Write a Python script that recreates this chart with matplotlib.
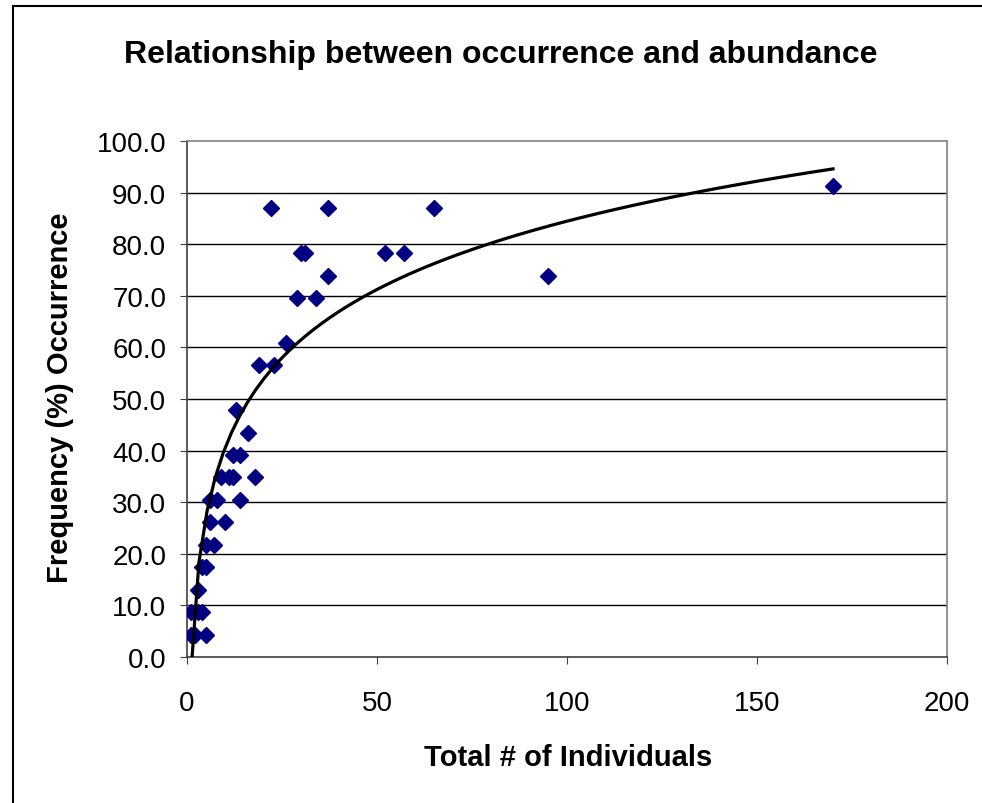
import numpy as np
import matplotlib
matplotlib.use("Agg")
import matplotlib.pyplot as plt
from matplotlib.patches import Rectangle

plt.rcParams['font.family'] = ['Liberation Sans', 'DejaVu Sans']

# total individuals per species vs % of sites occupied
individuals = [1, 2, 5, 1, 3, 4, 3, 4, 5, 5, 7, 6, 10, 6, 8, 14,
               9, 11, 12, 18, 12, 14, 16, 13, 19, 23, 26, 29, 34,
               37, 95, 30, 31, 52, 57, 22, 37, 65, 170]
occurrence = [4.3, 4.3, 4.3, 8.7, 8.7, 8.7, 13.0, 17.4, 17.4, 21.7, 21.7,
              26.1, 26.1, 30.4, 30.4, 30.4, 34.8, 34.8, 34.8, 34.8, 39.1,
              39.1, 43.5, 47.8, 56.5, 56.5, 60.9, 69.6, 69.6, 73.9, 73.9,
              78.3, 78.3, 78.3, 78.3, 87.0, 87.0, 87.0, 91.3]

# log trendline as shown on the chart: y = slope*ln(x) + intercept
trend_slope = 19.1
trend_intercept = -3.5

x = np.array(individuals, dtype=float)
y = np.array(occurrence)
xs = np.linspace(x.min(), x.max(), 80)
ys = trend_slope*np.log(xs) + trend_intercept

fig = plt.figure(figsize=(9.82, 8.04), dpi=100)
ax = fig.add_axes([187/982, 1-658/804, 760/982, 516/804])

for g in np.arange(10, 100, 10):
    ax.axhline(g, color='black', linewidth=1, zorder=1)

ax.plot(x, y, linestyle='none', marker='D', markersize=8.5,
        color='#000080', zorder=3)
ax.plot(xs, ys, color='black', linewidth=2.3, zorder=4)

ax.set_xlim(0, 200)
ax.set_ylim(0, 100)
ax.set_xticks(np.arange(0, 201, 50))
ax.set_yticks(np.arange(0, 101, 10))
ax.yaxis.set_major_formatter(matplotlib.ticker.FormatStrFormatter('%.1f'))
for s in ax.spines.values():
    s.set_color('#808080')
    s.set_linewidth(1.2)
ax.spines['left'].set_color('#404040')
ax.spines['bottom'].set_color('#404040')
ax.tick_params(direction='out', length=5, color='#404040', labelsize=20)
ax.tick_params(axis='x', pad=19)
ax.tick_params(axis='y', pad=10)

fig.text(568/982, 1-766/804, 'Total # of Individuals', ha='center',
         va='baseline', fontsize=21, fontweight='bold')
fig.text(60/982, 1-398/804, 'Frequency (%) Occurrence', ha='center',
         va='center', rotation=90, fontsize=21, fontweight='bold')
fig.text(501/982, 1-63/804, 'Relationship between occurrence and abundance',
         ha='center', va='baseline', fontsize=23, fontweight='bold')

fig.patches.append(Rectangle((13/982, -0.1), 1.2, 1.1 - 7/804,
                             transform=fig.transFigure, fill=False,
                             edgecolor='black', linewidth=1.5))

fig.savefig('out.png', dpi=100)
